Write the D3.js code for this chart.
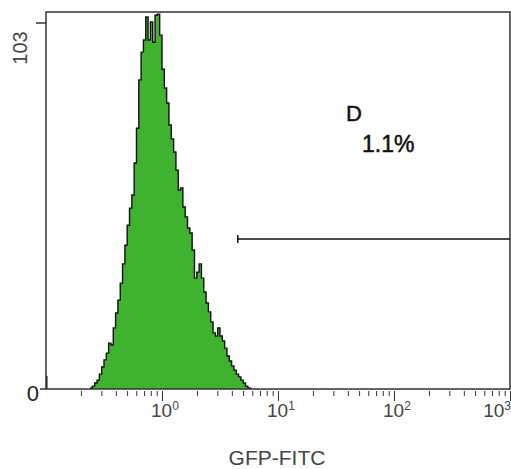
<!DOCTYPE html>
<html>
<head>
<style>
  body { margin: 0; background: #fff; }
  text { font-family: "Liberation Sans", Arial, sans-serif; }
</style>
<script src="https://d3js.org/d3.v7.min.js"></script>
</head>
<body>
<svg width="511" height="469" id="chart"></svg>
<script>
// histogram channels: log10 lower edge of first bin, bin width (log10 units)
const binStart = -0.62;
const binStep = 0.02;
const counts = [0.3, 0.8, 1.7, 2.5, 4.2, 6.2, 8.2, 10.1, 12.9, 12.4,
  17.2, 21.4, 25.0, 29.8, 35.2, 40.5, 46.1, 50.9, 54.6, 63.6,
  73.4, 87.0, 94.8, 98.2, 104.7, 98.2, 103.3, 97.6, 105.2, 105.5,
  99.6, 90.0, 84.7, 80.5, 74.3, 70.4, 66.7, 61.6, 56.0, 56.6,
  51.2, 48.4, 45.3, 43.9, 39.1, 31.2, 32.9, 35.2, 31.2, 27.3,
  24.2, 21.7, 18.9, 15.8, 14.9, 17.2, 14.9, 13.5, 11.5, 9.3,
  7.9, 6.5, 5.3, 4.2, 3.4, 2.5, 1.7, 0.8, 0.3, 0];
// events piled in the lowest channel
const offscaleLow = [0.1, 0.103, 3.7];
// gate D
const gateRange = [4.5, 1000];
const gateLevel = 42.2;
const gateName = "D";
const gatePct = "1.1%";
const xDecades = [0.1, 1, 10, 100, 1000];
const yTicks = [0, 103];
const xTitle = "GFP-FITC";

const pLeft = 46, pRight = 510, pTop = 12, pBottom = 389;
const svg = d3.select("#chart");

const x = d3.scaleLog().domain([0.1, 1000]).range([pLeft, pRight]);
const y = d3.scaleLinear().domain([0, 103]).range([pBottom, 23]);

svg.append("defs").append("clipPath").attr("id", "plotclip")
  .append("rect").attr("x", pLeft).attr("y", pTop)
  .attr("width", pRight - pLeft).attr("height", pBottom - pTop);

// bins -> step points
var pts = counts.map((c, i) => [Math.pow(10, binStart + i * binStep), c]);
pts.push([Math.pow(10, binStart + counts.length * binStep), 0]);

const area = d3.area()
  .x(d => x(d[0])).y0(y(0)).y1(d => y(d[1]))
  .curve(d3.curveStepAfter);
const line = d3.line()
  .x(d => x(d[0])).y(d => y(d[1]))
  .curve(d3.curveStepAfter);

const plot = svg.append("g").attr("clip-path", "url(#plotclip)");
plot.append("path").datum(pts)
  .attr("d", area)
  .attr("fill", "#3fb22f");
plot.append("path").datum(pts)
  .attr("d", line)
  .attr("fill", "none")
  .attr("stroke", "#111")
  .attr("stroke-width", 1.4);

plot.append("rect")
  .attr("x", x(offscaleLow[0]))
  .attr("width", x(offscaleLow[1]) - x(offscaleLow[0]))
  .attr("y", y(offscaleLow[2]))
  .attr("height", y(0) - y(offscaleLow[2]))
  .attr("fill", "#111");

// frame
svg.append("rect")
  .attr("x", pLeft).attr("y", pTop)
  .attr("width", pRight - pLeft).attr("height", pBottom - pTop)
  .attr("fill", "none").attr("stroke", "#333").attr("stroke-width", 1.5);

// x ticks (minor + decades)
var minor = [];
xDecades.slice(0, -1).forEach(function(d) {
  for (var k = 2; k < 10; k++) minor.push(d * k);
});
svg.append("g").attr("transform", "translate(0," + (pBottom + 2) + ")")
  .call(d3.axisBottom(x).tickValues(minor).tickSize(5).tickFormat(""))
  .call(g => g.select(".domain").remove())
  .selectAll("line").attr("stroke", "#333");
svg.append("g").attr("transform", "translate(0," + (pBottom + 2) + ")")
  .call(d3.axisBottom(x).tickValues(xDecades.slice(1)).tickSize(10).tickFormat(""))
  .call(g => g.select(".domain").remove())
  .selectAll("line").attr("stroke", "#333");

// decade labels 10^n
xDecades.slice(1).forEach(function(d, i, arr) {
  var last = i == arr.length - 1;
  var t = svg.append("text")
    .attr("x", last ? 511 : x(d) - 11)
    .attr("y", 417)
    .attr("text-anchor", last ? "end" : "start")
    .attr("font-size", 19)
    .attr("fill", "#444");
  t.append("tspan").text("10");
  t.append("tspan").text(Math.round(Math.log10(d)))
    .attr("font-size", 12)
    .attr("dy", -7);
});

svg.append("text")
  .attr("x", (pLeft + pRight) / 2 - 1)
  .attr("y", 465)
  .attr("text-anchor", "middle")
  .attr("font-size", 21)
  .attr("fill", "#444")
  .text(xTitle);

// y ticks
svg.append("line")
  .attr("x1", 36).attr("x2", pLeft)
  .attr("y1", y(yTicks[1])).attr("y2", y(yTicks[1]))
  .attr("stroke", "#333").attr("stroke-width", 1.5);
svg.append("line")
  .attr("x1", 40).attr("x2", pLeft)
  .attr("y1", y(yTicks[0])).attr("y2", y(yTicks[0]))
  .attr("stroke", "#333").attr("stroke-width", 1.5);
svg.append("text")
  .attr("transform", "translate(27," + (y(yTicks[1]) + 25) + ") rotate(-90)")
  .attr("text-anchor", "middle")
  .attr("font-size", 20)
  .attr("fill", "#444")
  .text(yTicks[1]);
svg.append("text")
  .attr("x", 39)
  .attr("y", y(yTicks[0]) + 12)
  .attr("text-anchor", "end")
  .attr("font-size", 22)
  .attr("font-family", "Liberation Serif, serif")
  .attr("fill", "#222")
  .text(yTicks[0]);

// gate marker
svg.append("line")
  .attr("x1", x(gateRange[0])).attr("x2", x(gateRange[1]))
  .attr("y1", y(gateLevel)).attr("y2", y(gateLevel))
  .attr("stroke", "#111").attr("stroke-width", 1.5);
svg.append("line")
  .attr("x1", x(gateRange[0])).attr("x2", x(gateRange[0]))
  .attr("y1", y(gateLevel) - 4).attr("y2", y(gateLevel) + 4)
  .attr("stroke", "#111").attr("stroke-width", 1.5);

svg.append("text")
  .attr("x", 346).attr("y", 121)
  .attr("font-size", 22)
  .attr("fill", "#111")
  .attr("stroke", "#111").attr("stroke-width", 0.5)
  .text(gateName);
svg.append("text")
  .attr("x", 362).attr("y", 152)
  .attr("font-size", 23)
  .attr("fill", "#111")
  .attr("stroke", "#111").attr("stroke-width", 0.5)
  .text(gatePct);
</script>
</body>
</html>
